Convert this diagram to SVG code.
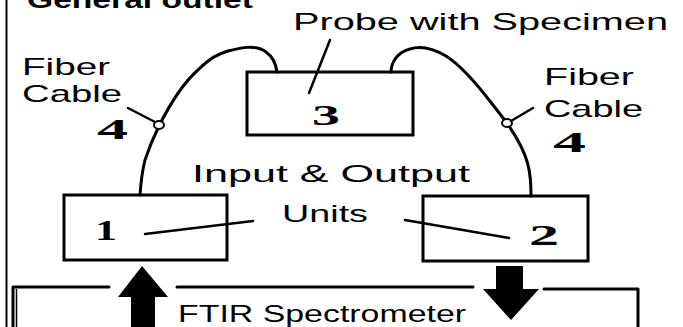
<svg xmlns="http://www.w3.org/2000/svg" width="683" height="327" viewBox="0 0 683 327">
<style>
.lbl{font-family:"Liberation Sans","DejaVu Sans",sans-serif;font-size:24px;fill:#000}
.num{font-family:"Liberation Serif","DejaVu Serif",serif;font-weight:bold;font-size:30px;fill:#000}
.box{fill:none;stroke:#000;stroke-width:3}
.ln{fill:none;stroke:#000;stroke-width:2.5;stroke-linecap:round}
.cab{fill:none;stroke:#000;stroke-width:3;stroke-linecap:round;stroke-linejoin:round}
</style>
<rect width="683" height="327" fill="#fff"/>
<line x1="6.5" y1="0" x2="6.5" y2="327" stroke="#000" stroke-width="2"/>
<text class="lbl" x="27" y="8" font-weight="bold" textLength="226" lengthAdjust="spacingAndGlyphs">General outlet</text>

<g id="connectors">
  <path class="cab" d="M140,195 C141,180 143,168 145,160 C149,148 154,136 159,126 C170,104 182,84 198,70 C210,58 218,54 228,51 C240,48 256,44 266,52 C273,57 276,64 277,72"/>
  <path class="cab" d="M391,72 C391,62 398,52 410,49 C422,45 434,49 446,56 C462,66 480,88 493,105 L507,123 C516,136 525,152 528,165 C531,176 531,186 531,196"/>
  <ellipse cx="159" cy="125" rx="5" ry="4" fill="#fff" stroke="#000" stroke-width="2"/>
  <ellipse cx="507" cy="123" rx="5" ry="4" fill="#fff" stroke="#000" stroke-width="2"/>
  <path d="M131,327 L131,297 L118,297 L142,266 L168,297 L155,297 L155,327 Z" fill="#000"/>
  <path d="M496,266 L523,266 L523,289 L539,289 L511,320 L483,289 L496,289 Z" fill="#000"/>
</g>

<g id="probe">
  <rect class="box" x="247" y="72" width="166" height="63"/>
  <text class="num" x="326" y="125" text-anchor="middle" textLength="28" lengthAdjust="spacingAndGlyphs">3</text>
  <text class="lbl" x="293" y="30" textLength="375" lengthAdjust="spacingAndGlyphs">Probe with Specimen</text>
</g>

<g id="unit1">
  <rect class="box" x="64" y="195" width="163" height="65"/>
  <text class="num" x="106" y="240" text-anchor="middle" textLength="22" lengthAdjust="spacingAndGlyphs">1</text>
</g>

<g id="unit2">
  <rect class="box" x="423" y="196" width="165" height="65"/>
  <text class="num" x="544" y="245" text-anchor="middle" textLength="30" lengthAdjust="spacingAndGlyphs">2</text>
</g>

<g id="io-label">
  <text class="lbl" x="192" y="182" textLength="278" lengthAdjust="spacingAndGlyphs">Input &amp; Output</text>
  <text class="lbl" x="282" y="222" textLength="86" lengthAdjust="spacingAndGlyphs">Units</text>
</g>

<g id="cable-left">
  <text class="lbl" x="22" y="75" textLength="88" lengthAdjust="spacingAndGlyphs">Fiber</text>
  <text class="lbl" x="22" y="102" textLength="100" lengthAdjust="spacingAndGlyphs">Cable</text>
  <text class="num" x="97" y="139" textLength="31" lengthAdjust="spacingAndGlyphs">4</text>
</g>

<g id="cable-right">
  <text class="lbl" x="544" y="85" textLength="90" lengthAdjust="spacingAndGlyphs">Fiber</text>
  <text class="lbl" x="544" y="117" textLength="99" lengthAdjust="spacingAndGlyphs">Cable</text>
  <text class="num" x="553" y="152" textLength="33" lengthAdjust="spacingAndGlyphs">4</text>
</g>

<g id="ftir">
  <path class="cab" d="M13,327 L13,287 L109,287 M177,287 L473,287 M544,289 L638,289 L638,327"/>
  <line x1="16.5" y1="289" x2="16.5" y2="327" stroke="#000" stroke-width="1.5"/>
  <text class="lbl" x="178" y="322" textLength="288" lengthAdjust="spacingAndGlyphs">FTIR Spectrometer</text>
</g>

<g id="leaders">
  <line class="ln" x1="330" y1="40" x2="309" y2="93"/>
  <line class="ln" x1="128" y1="108" x2="155" y2="122"/>
  <line class="ln" x1="511" y1="121" x2="533" y2="108"/>
  <line class="ln" x1="145" y1="234" x2="253" y2="221"/>
  <line class="ln" x1="405" y1="220" x2="509" y2="238"/>
</g>
</svg>
